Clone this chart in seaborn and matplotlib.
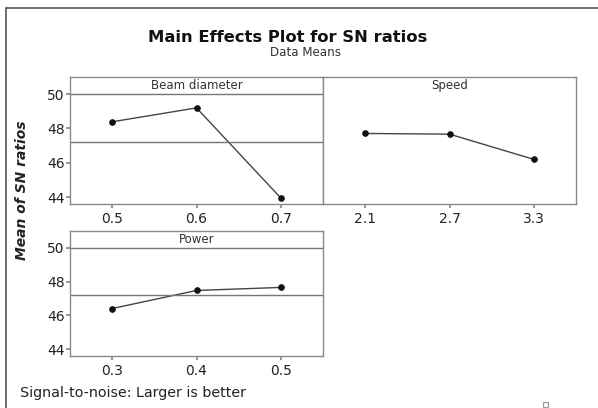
import matplotlib
matplotlib.use("Agg")
import matplotlib.pyplot as plt
import seaborn as sns
import pandas as pd
from matplotlib.lines import Line2D
from matplotlib.patches import Rectangle

sns.set_theme(style="white")
plt.rcParams['font.family'] = ['DejaVu Sans']

beam_levels = ["0.5", "0.6", "0.7"]
beam_sn = [48.39, 49.20, 43.95]
speed_levels = ["2.1", "2.7", "3.3"]
speed_sn = [47.71, 47.67, 46.20]
power_levels = ["0.3", "0.4", "0.5"]
power_sn = [46.41, 47.48, 47.66]
grand_mean = 47.19
y_ticks = [44, 46, 48, 50]

W, H = 598, 408
fig = plt.figure(figsize=(W / 100, H / 100), dpi=100)
fig.patch.set_facecolor("white")

def rect(x0, y0, x1, y1):
    return [x0 / W, 1 - y1 / H, (x1 - x0) / W, (y1 - y0) / H]

panels = [
    ("Beam diameter", beam_levels, beam_sn, rect(70, 77, 323, 204), True, (43.6, 51.0)),
    ("Speed", speed_levels, speed_sn, rect(323, 77, 576, 204), False, (43.6, 51.0)),
    ("Power", power_levels, power_sn, rect(70, 231, 323, 356), True, (43.6, 51.0)),
]

line_col = "#444444"
spine_col = "#8a8a8a"
for name, levels, vals, pos, full, ylim in panels:
    ax = fig.add_axes(pos)
    df = pd.DataFrame({"level": levels, "sn": vals})
    sns.pointplot(data=df, x="level", y="sn", ax=ax, color=line_col,
                  markers="o", markersize=4, linewidth=1.0, errorbar=None)
    for coll in ax.collections:
        coll.set_facecolor("#111111")
        coll.set_edgecolor("#111111")
    for ln in ax.lines:
        ln.set_markerfacecolor("#111111")
        ln.set_markeredgecolor("#111111")
    ax.set_xlim(-0.5, 2.5)
    ax.set_ylim(*ylim)
    ax.set_xlabel("")
    ax.set_ylabel("")
    for s in ax.spines.values():
        s.set_color(spine_col)
        s.set_linewidth(1.0)
    ax.tick_params(axis="x", length=3, color=spine_col, labelsize=10,
                   labelcolor="#222222", pad=3, bottom=True)
    if full:
        ax.set_yticks(y_ticks)
        ax.set_yticklabels([str(t) for t in y_ticks])
        ax.tick_params(axis="y", length=3, color=spine_col, labelsize=10,
                       labelcolor="#222222", pad=1, left=True)
        ax.axhline(50, color="#777777", lw=1.0)
        ax.axhline(grand_mean, color="#777777", lw=1.0)
    else:
        ax.set_yticks([])
    ax.text(0.5, (50.5 - ylim[0]) / (ylim[1] - ylim[0]), name,
            transform=ax.transAxes, ha="center", va="center",
            fontsize=8.5, color="#333333")

fig.text(288 / W, 1 - 37 / H, "Main Effects Plot for SN ratios",
         ha="center", va="center", fontsize=11.8, fontweight="bold", color="#111111")
fig.text(306 / W, 1 - 53 / H, "Data Means", ha="center", va="center",
         fontsize=8.6, color="#333333")
fig.text(22 / W, 1 - 190 / H, "Mean of SN ratios", rotation=90,
         ha="center", va="center", fontsize=10, fontstyle="italic",
         fontweight="bold", color="#222222")
fig.text(20 / W, 1 - 393 / H, "Signal-to-noise: Larger is better",
         ha="left", va="center", fontsize=10.3, color="#222222")

# outer frame lines (top and left)
fig.add_artist(Line2D([6 / W, 1], [1 - 8 / H, 1 - 8 / H],
                      transform=fig.transFigure, color="#555555", lw=1.2))
fig.add_artist(Line2D([6 / W, 6 / W], [0, 1 - 8 / H],
                      transform=fig.transFigure, color="#555555", lw=1.2))
fig.add_artist(Rectangle((543 / W, 1 - 407 / H), 5 / W, 5 / H,
                         transform=fig.transFigure, fill=False,
                         edgecolor="#999999", lw=0.8))

fig.savefig("out.png", dpi=100, facecolor="white")
